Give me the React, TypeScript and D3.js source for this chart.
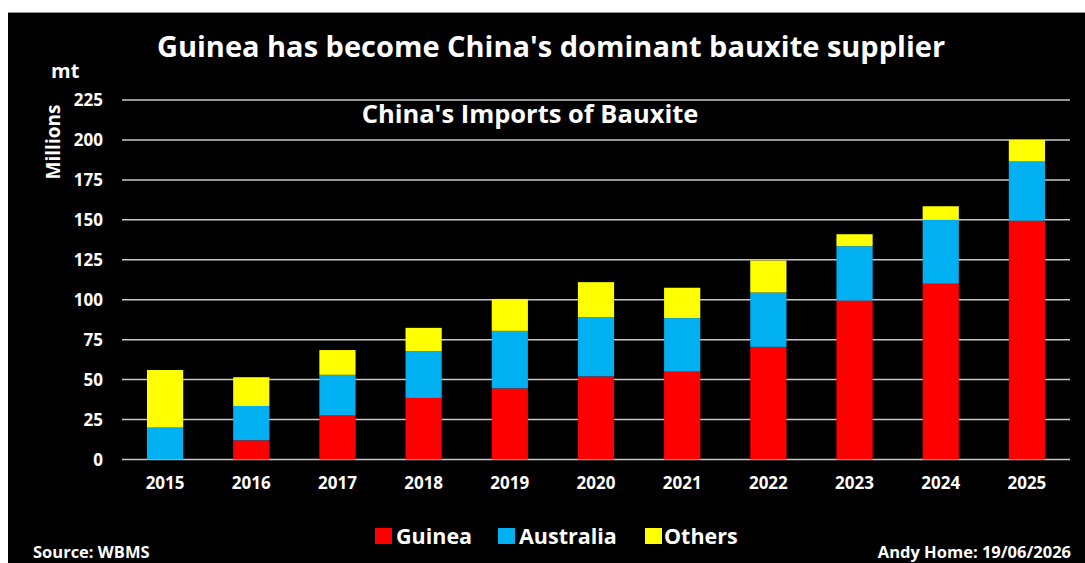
import React from 'react';
import * as d3 from 'd3';

const years = ['2015', '2016', '2017', '2018', '2019', '2020', '2021', '2022', '2023', '2024', '2025'];
const guinea = [0, 12, 27.5, 38.5, 44.5, 52, 55, 70.5, 99.5, 110, 149.5];
const australia = [20, 21.5, 25.5, 29.3, 36, 37, 33.5, 34, 34, 40, 37];
const others = [36, 18, 15.5, 14.6, 20, 22, 19, 20, 7.5, 8.5, 13.5];
const yTicks = [0, 25, 50, 75, 100, 125, 150, 175, 200, 225];

const seriesNames = ['Guinea', 'Australia', 'Others'];
const colors = ['#ff0000', '#00b0f0', '#ffff00'];

const W = 1085;
const H = 563;
const FONT = '"Open Sans", Lato, sans-serif';

const App: React.FC = () => {
  const rows = years.map((y, i) => ({
    year: y,
    Guinea: guinea[i],
    Australia: australia[i],
    Others: others[i],
  }));

  const stacked = d3.stack<any>().keys(seriesNames)(rows);

  const x = d3.scaleBand()
    .domain(years)
    .range([122, 1070])
    .paddingInner(0.58)
    .paddingOuter(0.29);

  const y = d3.scaleLinear()
    .domain([0, 225])
    .range([459.5, 100]);

  // legend layout
  const legend = [
    { name: 'Guinea', sq: 375, tx: 396 },
    { name: 'Australia', sq: 498, tx: 519 },
    { name: 'Others', sq: 645, tx: 664 },
  ];

  return (
    <svg width={W} height={H} style={{ position: 'absolute', left: 0, top: 0 }} fontFamily={FONT}>
      <rect x={0} y={0} width={W} height={H} fill="#fff" />
      <rect x={8} y={12} width={W - 8} height={H - 12} fill="#000" />
      <line x1={8} x2={W} y1={12.5} y2={12.5} stroke="#999" strokeWidth={1} />

      <text x={551} y={57} fill="#fff" fontSize={29} fontWeight={700} textAnchor="middle">
        Guinea has become China's dominant bauxite supplier
      </text>

      <text x={51} y={78} fill="#fff" fontSize={20} fontWeight={700}>mt</text>
      <text
        transform="translate(60,142) rotate(-90)"
        fill="#fff"
        fontSize={19}
        fontWeight={700}
        textAnchor="middle"
      >
        Millions
      </text>

      {/* grid */}
      {yTicks.map(t => (
        <g key={t}>
          <line x1={122} x2={1070} y1={y(t)} y2={y(t)} stroke="#c8c8c8" strokeWidth={1.5} />
          <text x={103} y={y(t)} dy="0.36em" fill="#fff" fontSize={17} fontWeight={700} textAnchor="end">
            {t}
          </text>
        </g>
      ))}

      <text x={530} y={123} fill="#fff" fontSize={25.5} fontWeight={700} textAnchor="middle">
        China's Imports of Bauxite
      </text>

      {/* bars */}
      {stacked.map((s, si) => (
        <g key={s.key} fill={colors[si]}>
          {s.map((d, i) => (
            <rect
              key={i}
              x={x(years[i])}
              width={x.bandwidth()}
              y={y(d[1])}
              height={Math.max(0, y(d[0]) - y(d[1]))}
            />
          ))}
        </g>
      ))}

      {/* x labels */}
      {years.map(yr => (
        <text
          key={yr}
          x={(x(yr) || 0) + x.bandwidth() / 2}
          y={489}
          fill="#fff"
          fontSize={17}
          fontWeight={700}
          textAnchor="middle"
        >
          {yr}
        </text>
      ))}

      {/* legend */}
      {legend.map((l, i) => (
        <g key={l.name}>
          <rect x={l.sq} y={528} width={17} height={16} fill={colors[i]} />
          <text x={l.tx} y={544} fill="#fff" fontSize={21.5} fontWeight={700}>{l.name}</text>
        </g>
      ))}

      <text x={33} y={558} fill="#fff" fontSize={16.5} fontWeight={700}>Source: WBMS</text>
      <text x={1071} y={558} fill="#fff" fontSize={16.5} fontWeight={700} textAnchor="end">
        Andy Home: 19/06/2026
      </text>
    </svg>
  );
};

export default App;
